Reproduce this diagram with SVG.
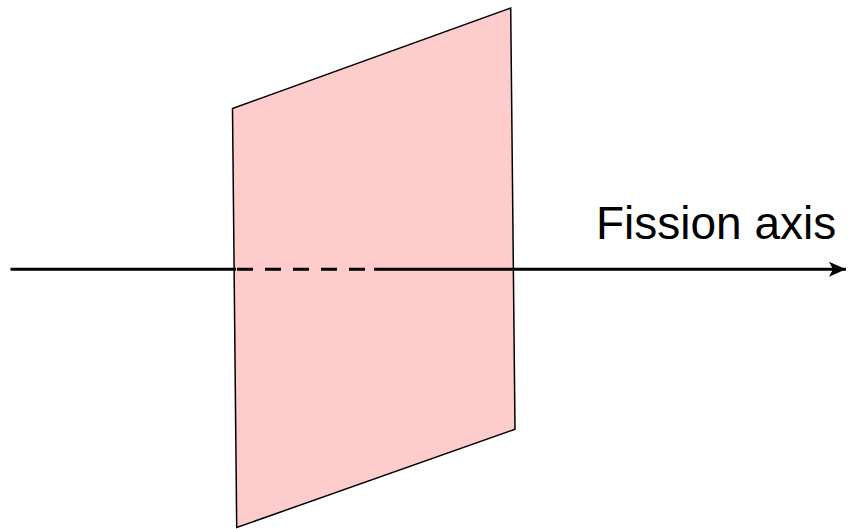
<svg xmlns="http://www.w3.org/2000/svg" width="848" height="529" viewBox="0 0 848 529">
<style>
.plane{fill:#ffcccc;stroke:#000;stroke-width:1.5;stroke-linejoin:miter}
.axis{stroke:#000;stroke-width:3;fill:none}
.lbl{font-family:"Liberation Sans",Arial,sans-serif;font-size:46px;fill:#000}
</style>
<defs>
<marker id="arr" markerUnits="userSpaceOnUse" markerWidth="20" markerHeight="20" viewBox="0 0 20 20" refX="17" refY="10" orient="auto">
<path d="M0,2.5 L17,10 L0,17.5 L4,10 Z" fill="#000"/>
</marker>
</defs>
<g id="plane">
<polygon class="plane" points="232.5,108.5 510.7,8 515,429.3 236.7,527.5"/>
</g>
<g id="connectors">
<line class="axis" x1="10.5" y1="269.2" x2="236" y2="269.2"/>
<line class="axis" x1="237" y1="269.2" x2="374" y2="269.2" stroke-dasharray="16 12"/>
<line class="axis" x1="374" y1="269.2" x2="846" y2="269.2" marker-end="url(#arr)"/>
</g>
<g id="label">
<text class="lbl" x="596" y="239.3">Fission axis</text>
</g>
</svg>
